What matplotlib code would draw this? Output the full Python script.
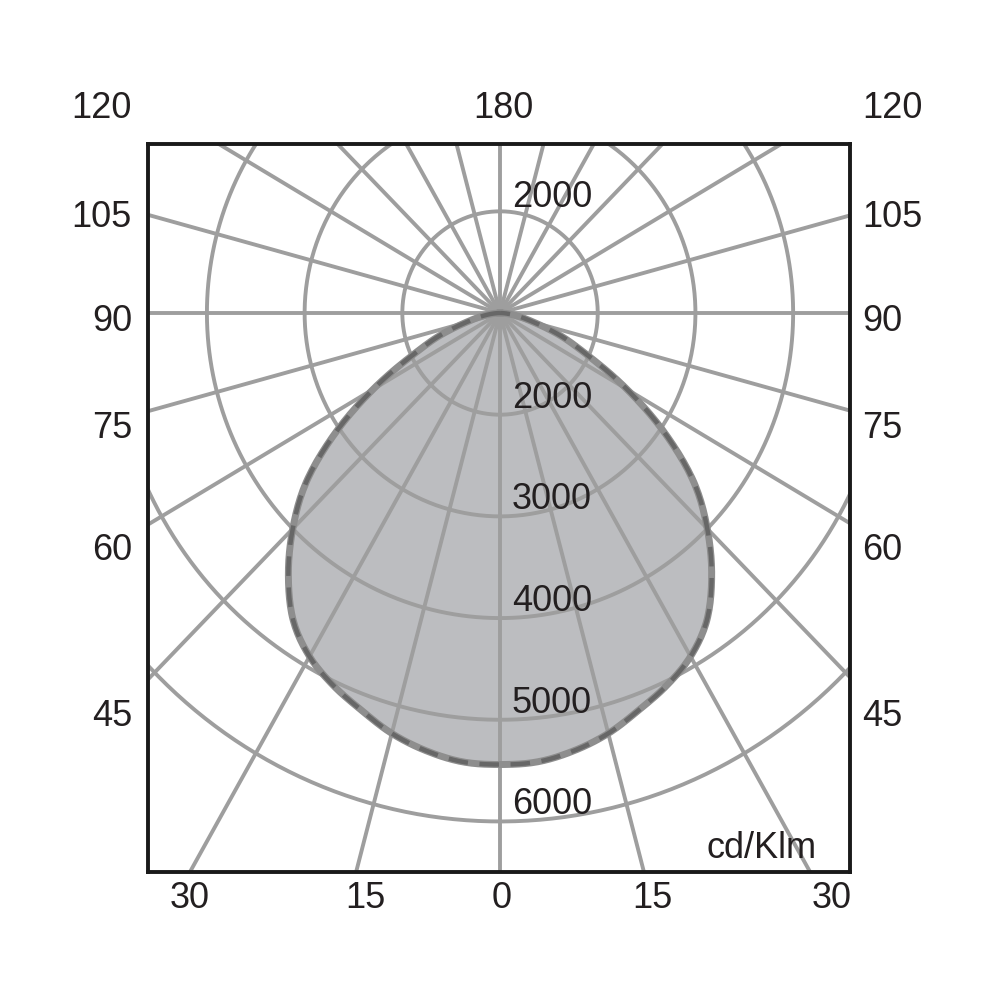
import numpy as np
import matplotlib
matplotlib.use('Agg')
from matplotlib import pyplot as plt

# Light distribution (cd/klm), gamma 0 = straight down
gamma = [0, 5, 10, 15, 20, 25, 30, 35, 40, 45, 50, 55, 60, 65, 70, 75, 80, 85, 90]
intensity = [5440, 5430, 5370, 5280, 5155, 5040, 4900, 4690, 4370, 4000,
             3590, 3060, 2500, 2000, 1670, 1370, 1200, 1080, 1000]

ring_values = [2000, 3000, 4000, 5000, 6000]
spoke_angles = list(range(0, 360, 15))

side_labels = ['120', '105', '90', '75', '60', '45']
side_label_y = [118, 227, 331, 438, 560, 726]  # baselines, px from top
bottom_labels = ['30', '15', '0', '15', '30']
bottom_label_x = [190, 365, 502, 652, 832]
top_label = '180'
unit_label = 'cd/Klm'

GRID = '#9e9e9e'
FILL = '#bcbdc0'
TXT = '#231f20'
FONT = ['Liberation Sans', 'DejaVu Sans']
FS = 26


def ring_radius(value):
    # first ring is labelled 2000, each further ring adds 1000
    return (np.asarray(value, dtype=float) - 1000.0) / 1000.0


def smooth(gs, rs, n=12):
    # catmull-rom through the read points, evenly spaced in gamma
    gs = np.asarray(gs, dtype=float)
    rs = np.asarray(rs, dtype=float)
    p = np.concatenate([[rs[1]], rs, [max(0.0, 2 * rs[-1] - rs[-2])]])
    out_g, out_r = [], []
    for i in range(len(rs) - 1):
        p0, p1, p2, p3 = p[i], p[i + 1], p[i + 2], p[i + 3]
        for s in np.linspace(0, 1, n, endpoint=False):
            v = 0.5 * (2 * p1 + (-p0 + p2) * s + (2 * p0 - 5 * p1 + 4 * p2 - p3) * s ** 2
                       + (-p0 + 3 * p1 - 3 * p2 + p3) * s ** 3)
            out_g.append(gs[i] + s * (gs[i + 1] - gs[i]))
            out_r.append(max(v, 0.0))
    out_g.append(gs[-1])
    out_r.append(rs[-1])
    return np.array(out_g), np.array(out_r)


fig = plt.figure(figsize=(10, 10), dpi=100)
ax = fig.add_axes([0.148, 0.128, 0.702, 0.728])
ax.set_xlim(-3.603, 3.582)
ax.set_ylim(-5.497, 1.662)
ax.set_xticks([])
ax.set_yticks([])
for sp in ax.spines.values():
    sp.set_color('#1a1a1a')
    sp.set_linewidth(2.8)
    sp.set_zorder(10)

# curve (symmetric, mirrored to the left side)
gf, rf = smooth(gamma, ring_radius(intensity))
g = np.radians(gf)
g_full = np.concatenate([-g[::-1], g[1:]])
r_full = np.concatenate([rf[::-1], rf[1:]])
cx = r_full * np.sin(g_full)
cy = -r_full * np.cos(g_full)
ax.fill(cx, cy, color=FILL, zorder=1, lw=0)

# grid: rings and spokes
t = np.linspace(0, 2 * np.pi, 500)
for v in ring_values:
    rr = ring_radius(v)
    ax.plot(rr * np.sin(t), rr * np.cos(t), color=GRID, lw=2.8, zorder=2)
for a in spoke_angles:
    ar = np.radians(a)
    ax.plot([0, 9 * np.sin(ar)], [0, -9 * np.cos(ar)], color=GRID, lw=2.8,
            zorder=2, solid_capstyle='butt')

# outline: solid + dashed on top
ax.plot(cx, cy, color='#8e8e8e', lw=5.0, zorder=3, solid_joinstyle='round')
ax.plot(cx, cy, color='#676767', lw=3.2, zorder=4, dashes=(4.4, 2.6))

# ring labels
for v in ring_values:
    rr = ring_radius(v)
    ax.text(0.12, -rr + 0.07, str(v), fontsize=FS, color=TXT, family=FONT,
            ha='left', va='baseline', zorder=6)
rr = ring_radius(ring_values[0])
ax.text(0.12, rr + 0.04, str(ring_values[0]), fontsize=FS, color=TXT,
        family=FONT, ha='left', va='baseline', zorder=6)


def ftext(x, y, s, ha):
    fig.text(x / 1000.0, 1 - y / 1000.0, s, fontsize=FS, color=TXT,
             family=FONT, ha=ha, va='baseline')


ftext(503, 118, top_label, 'center')
for s, y in zip(side_labels, side_label_y):
    ftext(132, y, s, 'right')
    ftext(862, y, s, 'left')
for s, x in zip(bottom_labels, bottom_label_x):
    ftext(x, 908, s, 'center')
ftext(817, 858, unit_label, 'right')

fig.savefig('out.png', dpi=100, facecolor='white')
